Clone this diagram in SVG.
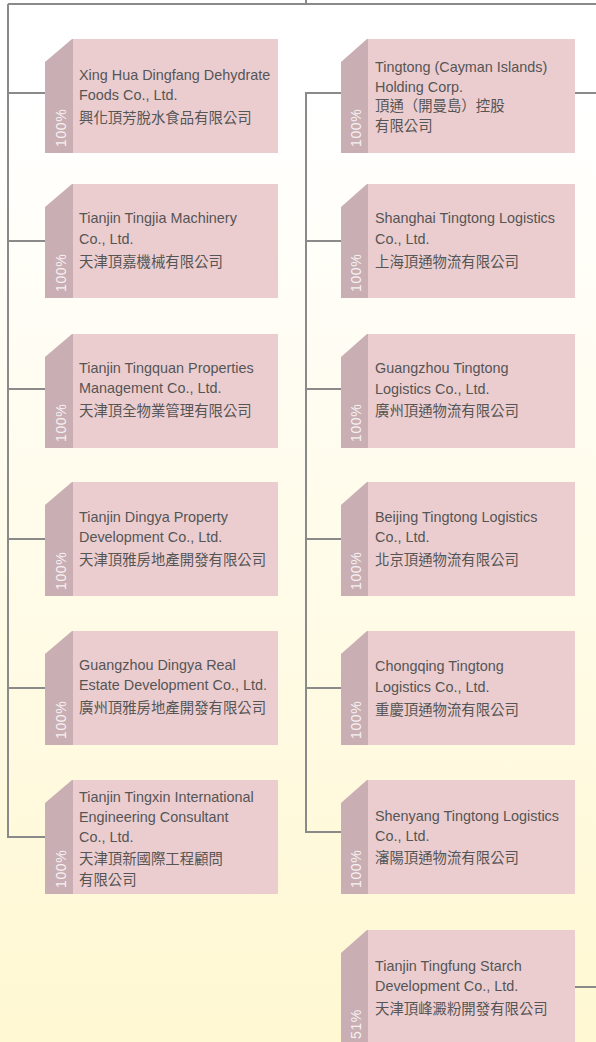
<svg xmlns="http://www.w3.org/2000/svg" width="596" height="1042" viewBox="0 0 596 1042">
<defs>
<linearGradient id="bg" x1="0" y1="0" x2="0" y2="1">
<stop offset="0" stop-color="#ffffff"/>
<stop offset="0.1" stop-color="#ffffff"/>
<stop offset="1" stop-color="#fff8d2"/>
</linearGradient>
</defs>
<style>
.strip{fill:#c9aeb4}
.card{fill:#ebcdd0}
.t{font-family:"Liberation Sans","Noto Sans CJK TC",sans-serif;font-size:14.4px;fill:#555555}
.pc{font-family:"Liberation Sans",sans-serif;font-size:14px;fill:#ffffff;fill-opacity:0.85;letter-spacing:0.6px}
.ln{fill:none;stroke:#8a8a8a;stroke-width:2}
</style>
<rect x="0" y="0" width="596" height="1042" fill="url(#bg)"/>
<g id="connectors">
<path class="ln" d="M306,0 V4 M8,4 H596 M8,4 V837 H45 M8,93 H45 M8,241 H45 M8,389 H45 M8,539 H45 M8,688 H45"/>
<path class="ln" d="M341,93 H306 V832 H341 M306,241 H341 M306,389 H341 M306,539 H341 M306,688 H341"/>
<path class="ln" d="M575,93 H596 M575,987 H596"/>
</g>
<g id="n-xinghua" transform="translate(45,39)">
<polygon class="strip" points="0,23 27,0 28,0 28,114 0,114"/><rect class="card" x="28" y="0" width="205" height="114"/>
<text class="pc" transform="translate(21,108) rotate(-90)">100%</text>
<text class="t" x="34" y="41">Xing Hua Dingfang Dehydrate</text>
<text class="t" x="34" y="61">Foods Co., Ltd.</text>
<text class="t" x="34" y="84">興化頂芳脫水食品有限公司</text>
</g>
<g id="n-tingjia" transform="translate(45,184)">
<polygon class="strip" points="0,23 27,0 28,0 28,114 0,114"/><rect class="card" x="28" y="0" width="205" height="114"/>
<text class="pc" transform="translate(21,108) rotate(-90)">100%</text>
<text class="t" x="34" y="39">Tianjin Tingjia Machinery</text>
<text class="t" x="34" y="60">Co., Ltd.</text>
<text class="t" x="34" y="83">天津頂嘉機械有限公司</text>
</g>
<g id="n-tingquan" transform="translate(45,334)">
<polygon class="strip" points="0,23 27,0 28,0 28,114 0,114"/><rect class="card" x="28" y="0" width="205" height="114"/>
<text class="pc" transform="translate(21,108) rotate(-90)">100%</text>
<text class="t" x="34" y="39">Tianjin Tingquan Properties</text>
<text class="t" x="34" y="59">Management Co., Ltd.</text>
<text class="t" x="34" y="82">天津頂全物業管理有限公司</text>
</g>
<g id="n-dingya" transform="translate(45,482)">
<polygon class="strip" points="0,23 27,0 28,0 28,114 0,114"/><rect class="card" x="28" y="0" width="205" height="114"/>
<text class="pc" transform="translate(21,108) rotate(-90)">100%</text>
<text class="t" x="34" y="40">Tianjin Dingya Property</text>
<text class="t" x="34" y="60">Development Co., Ltd.</text>
<text class="t" x="34" y="83">天津頂雅房地產開發有限公司</text>
</g>
<g id="n-gzdingya" transform="translate(45,631)">
<polygon class="strip" points="0,23 27,0 28,0 28,114 0,114"/><rect class="card" x="28" y="0" width="205" height="114"/>
<text class="pc" transform="translate(21,108) rotate(-90)">100%</text>
<text class="t" x="34" y="39">Guangzhou Dingya Real</text>
<text class="t" x="34" y="59">Estate Development Co., Ltd.</text>
<text class="t" x="34" y="82">廣州頂雅房地產開發有限公司</text>
</g>
<g id="n-tingxin" transform="translate(45,780)">
<polygon class="strip" points="0,23 27,0 28,0 28,114 0,114"/><rect class="card" x="28" y="0" width="205" height="114"/>
<text class="pc" transform="translate(21,108) rotate(-90)">100%</text>
<text class="t" x="34" y="22">Tianjin Tingxin International</text>
<text class="t" x="34" y="42">Engineering Consultant</text>
<text class="t" x="34" y="62">Co., Ltd.</text>
<text class="t" x="34" y="84">天津頂新國際工程顧問</text>
<text class="t" x="34" y="105">有限公司</text>
</g>
<g id="n-cayman" transform="translate(341,39)">
<polygon class="strip" points="0,23 26,0 27,0 27,114 0,114"/><rect class="card" x="27" y="0" width="207" height="114"/>
<text class="pc" transform="translate(20,108) rotate(-90)">100%</text>
<text class="t" x="34" y="33">Tingtong (Cayman Islands)</text>
<text class="t" x="34" y="53">Holding Corp.</text>
<text class="t" x="34" y="72">頂通（開曼島）控股</text>
<text class="t" x="34" y="92">有限公司</text>
</g>
<g id="n-shanghai" transform="translate(341,184)">
<polygon class="strip" points="0,23 26,0 27,0 27,114 0,114"/><rect class="card" x="27" y="0" width="207" height="114"/>
<text class="pc" transform="translate(20,108) rotate(-90)">100%</text>
<text class="t" x="34" y="39">Shanghai Tingtong Logistics</text>
<text class="t" x="34" y="60">Co., Ltd.</text>
<text class="t" x="34" y="83">上海頂通物流有限公司</text>
</g>
<g id="n-guangzhou" transform="translate(341,334)">
<polygon class="strip" points="0,23 26,0 27,0 27,114 0,114"/><rect class="card" x="27" y="0" width="207" height="114"/>
<text class="pc" transform="translate(20,108) rotate(-90)">100%</text>
<text class="t" x="34" y="39">Guangzhou Tingtong</text>
<text class="t" x="34" y="60">Logistics Co., Ltd.</text>
<text class="t" x="34" y="82">廣州頂通物流有限公司</text>
</g>
<g id="n-beijing" transform="translate(341,482)">
<polygon class="strip" points="0,23 26,0 27,0 27,114 0,114"/><rect class="card" x="27" y="0" width="207" height="114"/>
<text class="pc" transform="translate(20,108) rotate(-90)">100%</text>
<text class="t" x="34" y="40">Beijing Tingtong Logistics</text>
<text class="t" x="34" y="60">Co., Ltd.</text>
<text class="t" x="34" y="83">北京頂通物流有限公司</text>
</g>
<g id="n-chongqing" transform="translate(341,631)">
<polygon class="strip" points="0,23 26,0 27,0 27,114 0,114"/><rect class="card" x="27" y="0" width="207" height="114"/>
<text class="pc" transform="translate(20,108) rotate(-90)">100%</text>
<text class="t" x="34" y="40">Chongqing Tingtong</text>
<text class="t" x="34" y="61">Logistics Co., Ltd.</text>
<text class="t" x="34" y="84">重慶頂通物流有限公司</text>
</g>
<g id="n-shenyang" transform="translate(341,780)">
<polygon class="strip" points="0,23 26,0 27,0 27,114 0,114"/><rect class="card" x="27" y="0" width="207" height="114"/>
<text class="pc" transform="translate(20,108) rotate(-90)">100%</text>
<text class="t" x="34" y="41">Shenyang Tingtong Logistics</text>
<text class="t" x="34" y="61">Co., Ltd.</text>
<text class="t" x="34" y="83">瀋陽頂通物流有限公司</text>
</g>
<g id="n-tingfung" transform="translate(341,930)">
<polygon class="strip" points="0,23 26,0 27,0 27,114 0,114"/><rect class="card" x="27" y="0" width="207" height="114"/>
<text class="pc" transform="translate(20,109) rotate(-90)">51%</text>
<text class="t" x="34" y="41">Tianjin Tingfung Starch</text>
<text class="t" x="34" y="61">Development Co., Ltd.</text>
<text class="t" x="34" y="84">天津頂峰澱粉開發有限公司</text>
</g>
</svg>
